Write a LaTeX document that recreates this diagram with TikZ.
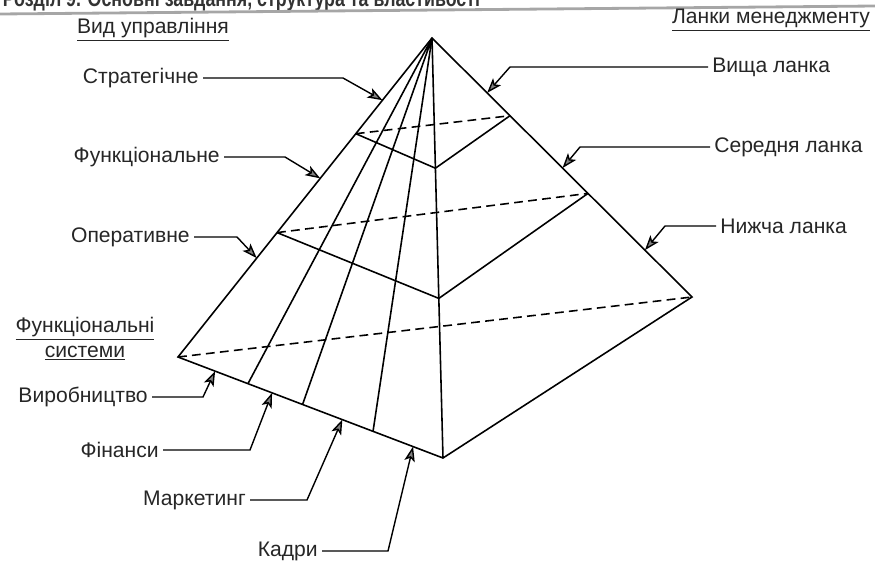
\documentclass[tikz,border=0pt]{standalone}
\usepackage{fontspec}
\setmainfont{Liberation Sans}
\newfontfamily\headfont[FakeStretch=0.78]{Liberation Sans}
\usetikzlibrary{arrows.meta}

\begin{document}
\begin{tikzpicture}[x=0.02cm,y=-0.02cm,line width=0.9pt,
    lbl/.style={font=\fontsize{12}{14}\selectfont,text=black!85,inner sep=2pt},
    arr/.style={-{Stealth[length=8.5pt,width=6pt,inset=2pt,fill=gray]},line width=0.8pt},
    hid/.style={dash pattern=on 5pt off 3pt}]
  \useasboundingbox(0,0)rectangle(875,561);
  \node[anchor=base west,inner sep=0pt,font=\headfont\bfseries\fontsize{13}{15}\selectfont,text=black!80](head)at(2,7){Розділ 9. Основні завдання, структура та властивості};
  \draw[black!35,line width=1.6pt](0,14)--(875,6);
  \coordinate(A)at(432,38);
  \coordinate(L)at(178,357);
  \coordinate(F)at(443,458);
  \coordinate(R)at(692,297);
  \path(A)--(L)coordinate[pos=0.3](L1)coordinate[pos=0.61](L2);
  \path(A)--(F)coordinate[pos=0.31](F1)coordinate[pos=0.62](F2);
  \path(A)--(R)coordinate[pos=0.3](R1)coordinate[pos=0.6](R2);
  \path(L)--(F)coordinate[pos=0.264](B1)coordinate[pos=0.47](B2)coordinate[pos=0.736](B3);
  \path(A)--(L)coordinate[pos=0.195](s1)coordinate[pos=0.44](s2)coordinate[pos=0.69](s3);
  \path(A)--(R)coordinate[pos=0.212](r1)coordinate[pos=0.502](r2)coordinate[pos=0.819](r3);
  \path(L)--(F)coordinate[pos=0.14](p1)coordinate[pos=0.355](p2)coordinate[pos=0.62](p3)coordinate[pos=0.887](p4);
  \draw(A)--(L)--(F)--(R)--cycle;
  \draw(A)--(F);
  \draw(A)--(B1)(A)--(B2)(A)--(B3);
  \draw(L1)--(F1)--(R1)(L2)--(F2)--(R2);
  \draw[hid](L1)--(R1)(L2)--(R2)(L)--(R);
  \node[lbl](vyd)at(153,30){\underline{Вид управління}};
  \node[lbl](lanky)at(771,20){\underline{Ланки менеджменту}};
  \node[lbl,anchor=east](strat)at(203,78){Стратегічне};
  \node[lbl,anchor=east](funk)at(224,157){Функціональне};
  \node[lbl,anchor=east](oper)at(194,237){Оперативне};
  \node[lbl,anchor=west](vyshcha)at(708,67){Вища ланка};
  \node[lbl,anchor=west](serednia)at(710,147){Середня ланка};
  \node[lbl,anchor=west](nyzhcha)at(716,226){Нижча ланка};
  \node[lbl,align=center](fsys)at(85,339){\underline{Функціональні}\\\underline{системи}};
  \node[lbl,anchor=east](vyrob)at(152,397){Виробництво};
  \node[lbl,anchor=east](fin)at(163,450){Фінанси};
  \node[lbl,anchor=east](mark)at(250,500){Маркетинг};
  \node[lbl,anchor=east](kadry)at(322,551){Кадри};
  \draw[arr](strat.east)--++(140,0)--(s1);
  \draw[arr](funk.east)--++(61,0)--(s2);
  \draw[arr](oper.east)--++(43,0)--(s3);
  \draw[arr](vyshcha.west)--++(-198,0)--(r1);
  \draw[arr](serednia.west)--++(-130,0)--(r2);
  \draw[arr](nyzhcha.west)--++(-51,0)--(r3);
  \draw[arr](vyrob.east)--++(51,0)--(p1);
  \draw[arr](fin.east)--++(87,0)--(p2);
  \draw[arr](mark.east)--++(57,0)--(p3);
  \draw[arr](kadry.east)--++(66,0)--(p4);
\end{tikzpicture}
\end{document}
